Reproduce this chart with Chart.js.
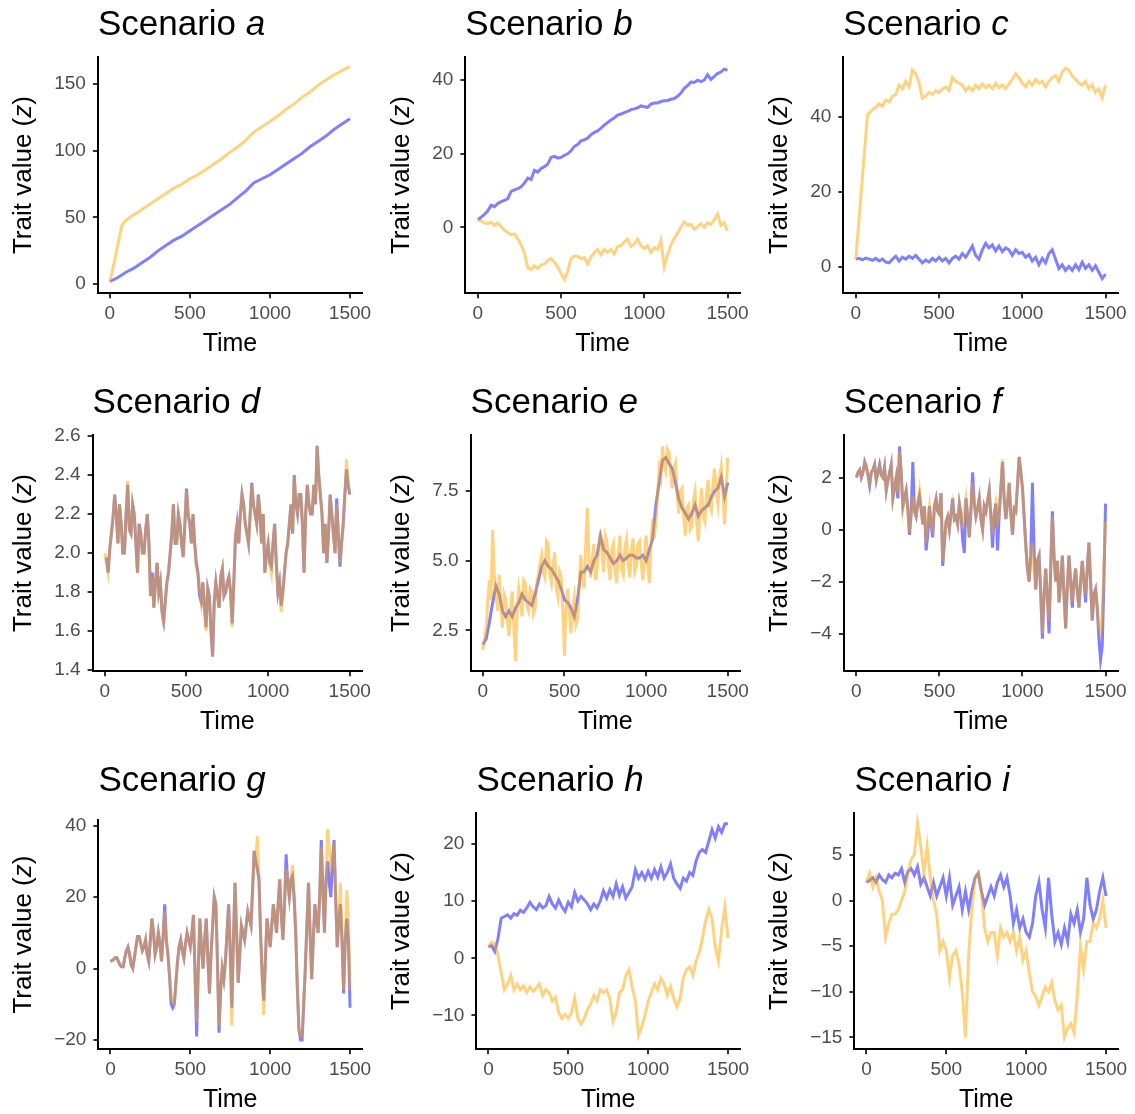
<!DOCTYPE html>
<html>
<head>
<meta charset="utf-8">
<script src="https://cdn.jsdelivr.net/npm/chart.js@4.4.1/dist/chart.umd.min.js"></script>
<style>
  html, body { margin: 0; padding: 0; background: #fff; overflow: hidden; }
  #grid { position: relative; width: 1135px; height: 1114px; }
  .cell { position: absolute; width: 378px; height: 378px; }
</style>
</head>
<body>
<div id="grid"></div>
<script>
// Time grids
const time10 = [0,10,20,30,40,50,60,70,80,90,
  100,110,120,130,140,150,160,170,180,190,
  200,210,220,230,240,250,260,270,280,290,
  300,310,320,330,340,350,360,370,380,390,
  400,410,420,430,440,450,460,470,480,490,
  500,510,520,530,540,550,560,570,580,590,
  600,610,620,630,640,650,660,670,680,690,
  700,710,720,730,740,750,760,770,780,790,
  800,810,820,830,840,850,860,870,880,890,
  900,910,920,930,940,950,960,970,980,990,
  1000,1010,1020,1030,1040,1050,1060,1070,1080,1090,
  1100,1110,1120,1130,1140,1150,1160,1170,1180,1190,
  1200,1210,1220,1230,1240,1250,1260,1270,1280,1290,
  1300,1310,1320,1330,1340,1350,1360,1370,1380,1390,
  1400,1410,1420,1430,1440,1450,1460,1470,1480,1490,
  1500];
const time20 = [0,20,40,60,80,100,120,140,160,180,200,220,240,260,280,300,320,340,360,380,
  400,420,440,460,480,500,520,540,560,580,600,620,640,660,680,700,720,740,760,780,
  800,820,840,860,880,900,920,940,960,980,1000,1020,1040,1060,1080,1100,1120,1140,1160,1180,
  1200,1220,1240,1260,1280,1300,1320,1340,1360,1380,1400,1420,1440,1460,1480,1500];
const time50 = [0,50,100,150,200,250,300,350,400,450,500,550,600,650,700,750,800,850,900,950,
  1000,1050,1100,1150,1200,1250,1300,1350,1400,1450,1500];
const xTicks = [0, 500, 1000, 1500];

// Scenario a
const aBlue = [2,5,9,12,16,20,25,29,33,36,40,44,48,52,56,60,65,70,76,79,82,86,90,94,98,103,107,111,116,120,124];
const aOrangeTime = [0,25,50,75,100,150,200,250,300,350,400,450,500,550,600,650,700,750,800,850,900,950,
  1000,1050,1100,1150,1200,1250,1300,1350,1400,1450,1500];
const aOrange = [2,15,30,44,48,52,56,60,64,68,72,75,79,82,86,90,94,99,103,108,114,118,122,126,131,135,140,144,149,153,157,160,163];
const aTicks = [0, 50, 100, 150];

// Scenario b (time20)
const bBlue = [2.0,2.8,3.5,4.5,6.0,5.6,6.5,7.0,7.3,7.8,
  9.8,10.2,10.5,11.0,12.0,13.4,13.0,15.5,15.0,16.0,
  16.5,17.2,19.0,19.3,18.8,19.0,19.6,20.0,20.8,22.0,
  22.5,23.5,23.8,24.3,25.2,25.8,26.2,27.0,27.8,28.5,
  29.2,29.8,30.5,30.8,31.2,31.5,32.0,32.2,32.5,33.0,
  32.8,32.6,33.5,33.8,33.8,34.2,34.4,34.5,34.8,35.0,
  35.6,36.5,37.8,38.5,39.5,39.4,40.0,39.6,40.0,41.5,
  40.2,41.0,41.8,42.2,43.0,42.7];
const bOrange = [2.0,1.8,1.2,1.0,1.4,0.5,1.2,0.2,-0.8,-1.5,
  -2.0,-1.8,-3.2,-4.8,-7.0,-11.0,-11.5,-10.5,-11.2,-10.2,
  -10.0,-9.0,-8.5,-9.5,-10.8,-12.5,-14.2,-12.0,-8.5,-7.8,
  -8.0,-8.5,-8.2,-10.0,-8.0,-7.0,-6.0,-7.5,-6.0,-6.8,
  -6.0,-7.2,-5.2,-5.0,-4.0,-3.2,-5.2,-4.5,-3.2,-5.0,
  -5.8,-5.0,-6.8,-5.5,-6.0,-3.5,-10.8,-7.5,-4.8,-3.0,
  -1.5,0.0,1.5,0.5,0.8,-0.5,0.2,1.0,0.0,1.2,
  0.8,2.0,3.6,0.5,1.2,-1.0];
const bTicks = [0, 20, 40];

// Scenario c (blue time20, orange own time grid)
const cBlue = [2,2.2,1.8,2.3,2.0,1.7,2.2,1.5,2.0,1.2,
  1.0,2.0,2.8,1.5,2.5,2.0,2.8,2.2,3.0,2.0,
  1.0,1.8,1.2,2.2,1.5,2.5,1.5,2.2,1.0,2.2,
  2.8,2.0,3.5,2.5,4.0,5.5,3.0,2.0,4.5,6.2,
  5.0,5.8,4.2,5.5,4.0,5.0,4.5,3.0,4.5,3.5,
  3.8,2.5,3.2,1.5,2.5,0.5,2.2,1.0,3.5,4.5,
  2.0,-0.5,0.5,-1.0,0.0,-1.0,0.5,-0.8,1.2,-0.5,
  0.5,-1.0,0.2,-1.5,-3.2,-2.0];
const cOrangeTime = [0,70,80,100,120,140,160,180,
  200,220,240,260,280,300,320,340,360,380,
  400,420,440,460,480,500,520,540,560,580,
  600,620,640,660,680,700,720,740,760,780,
  800,820,840,860,880,900,920,940,960,980,
  1000,1020,1040,1060,1080,1100,1120,1140,1160,1180,
  1200,1220,1240,1260,1280,1300,1320,1340,1360,1380,
  1400,1420,1440,1460,1480,1500];
const cOrange = [2,40.6,41,42,42.5,43.5,42.8,44.5,
  44.0,45.5,46.0,48.5,47.5,49.5,48.0,52.5,51.5,49.0,
  45.0,45.5,46.5,46.0,47.0,46.5,47.5,48.0,47.0,50.5,
  49.5,49.0,48.5,47.0,48.0,47.0,48.5,47.5,48.8,47.8,
  48.5,47.5,49.0,47.8,48.5,47.5,48.8,50.0,51.5,50.5,
  49.0,48.0,49.5,48.5,50.0,49.0,49.5,48.0,49.5,50.5,
  51.0,49.5,52.0,53.0,52.5,51.0,50.0,49.0,48.5,49.5,
  47.5,48.5,46.5,47.5,45.0,48.5];
const cTicks = [0, 20, 40];

// Scenario d (time10)
const dBlue = [1.97,1.97,1.9,2.02,2.1,2.18,2.3,2.2,2.05,2.25,
  2.15,2.0,2.0,2.2,2.35,2.12,2.1,2.25,2.2,2.05,
  1.9,2.15,2.1,2.0,2.0,2.12,2.2,2.05,1.78,1.9,
  1.72,1.85,1.95,1.8,1.85,1.7,1.65,1.75,1.85,1.9,
  2.0,2.1,2.25,2.05,2.05,2.2,2.15,2.05,1.98,2.15,
  2.33,2.2,2.15,2.05,2.2,2.05,1.95,1.9,1.78,1.75,
  1.85,1.72,1.62,1.82,1.78,1.6,1.47,1.75,1.85,1.78,
  1.72,1.88,1.92,1.78,1.8,1.85,1.88,1.8,1.64,1.85,
  2.08,2.15,2.05,2.2,2.3,2.25,2.15,2.1,2.05,2.2,
  2.36,2.25,2.2,2.15,2.3,2.2,2.05,2.2,1.9,2.0,
  2.05,1.95,1.93,2.05,2.15,1.95,1.8,1.85,1.73,1.8,
  1.9,2.0,2.05,2.15,2.25,2.1,2.4,2.25,2.2,2.3,
  2.3,2.15,1.9,2.2,2.35,2.25,2.2,2.2,2.35,2.25,
  2.55,2.4,2.3,2.2,2.0,2.15,1.95,2.1,2.3,2.2,
  2.1,2.0,2.28,2.1,1.93,2.05,2.15,2.3,2.43,2.35,
  2.3];
const dOrange = [2.0,1.95,1.9,2.02,2.1,2.18,2.3,2.2,2.05,2.25,
  2.15,2.0,2.0,2.2,2.37,2.12,2.1,2.25,2.2,2.05,
  1.9,2.15,2.1,2.0,2.0,2.12,2.2,2.05,1.78,1.88,
  1.72,1.85,1.95,1.8,1.85,1.7,1.63,1.75,1.85,1.9,
  2.0,2.1,2.25,2.05,2.05,2.2,2.15,2.05,1.98,2.15,
  2.32,2.2,2.15,2.05,2.2,2.05,1.92,1.9,1.82,1.75,
  1.85,1.72,1.6,1.82,1.78,1.62,1.47,1.75,1.85,1.78,
  1.72,1.88,1.92,1.78,1.8,1.85,1.88,1.8,1.62,1.85,
  2.1,2.15,2.05,2.2,2.3,2.25,2.15,2.1,2.05,2.2,
  2.35,2.25,2.2,2.15,2.3,2.2,2.05,2.2,1.9,2.0,
  2.05,1.95,1.9,2.05,2.15,1.95,1.8,1.85,1.7,1.8,
  1.9,2.0,2.05,2.15,2.25,2.1,2.4,2.25,2.2,2.3,
  2.3,2.15,1.9,2.2,2.35,2.25,2.2,2.2,2.35,2.25,
  2.55,2.4,2.3,2.2,2.0,2.15,1.95,2.1,2.3,2.2,
  2.1,2.0,2.25,2.1,1.95,2.05,2.15,2.3,2.48,2.35,
  2.3];
const dTicks = [1.4, 1.6, 1.8, 2.0, 2.2, 2.4, 2.6];

// Scenario e (blue time20, orange time10)
const eBlue = [2.0,2.2,2.8,3.5,4.1,3.8,3.2,3.0,3.2,3.0,
  3.3,3.5,3.8,3.6,3.5,3.4,3.8,4.3,4.8,5.0,
  4.8,4.7,4.5,4.3,4.0,3.6,3.5,3.3,3.0,3.6,
  4.6,4.6,4.8,4.6,5.0,5.2,5.9,5.4,5.3,5.1,
  4.9,5.0,5.2,5.0,5.1,5.2,5.2,5.1,5.1,5.2,
  5.0,5.4,5.8,7.0,7.8,8.6,8.7,8.5,8.3,7.8,
  7.2,6.9,6.7,6.5,6.7,7.0,6.6,6.8,6.9,7.0,
  7.3,7.5,7.6,8.0,7.3,7.8];
const eOrange = [1.8,2.2,2.6,3.5,4.3,3.6,6.1,4.5,3.8,3.2,
  4.5,3.5,2.6,3.8,3.6,2.9,2.3,3.3,3.9,2.6,
  1.4,3.2,4.0,3.6,3.0,4.3,4.2,3.4,3.2,4.0,
  3.9,3.1,3.3,4.2,4.5,4.9,5.2,4.6,4.4,5.7,
  5.6,4.5,4.2,4.9,5.3,4.0,3.7,4.6,4.4,3.2,
  1.6,3.4,4.0,3.1,2.4,3.3,3.7,2.7,2.9,4.1,
  5.2,4.4,4.0,5.6,6.9,5.0,4.4,5.1,5.6,4.3,
  4.7,5.5,6.0,5.2,4.6,5.9,5.7,4.8,4.3,5.4,
  5.6,4.6,4.2,5.3,5.9,4.7,4.5,5.5,5.8,4.9,
  4.4,5.4,5.8,4.6,4.8,5.6,5.7,4.9,4.3,5.2,
  5.9,4.8,4.2,5.6,6.5,5.8,6.4,7.4,8.3,8.0,
  9.1,8.4,8.2,9.0,8.9,8.1,7.6,8.3,8.5,7.4,
  6.7,7.5,7.6,6.6,5.9,6.9,7.0,6.1,6.2,7.2,
  7.5,6.3,5.7,6.9,7.6,6.6,6.4,7.4,7.9,7.0,
  6.8,7.8,8.3,7.4,7.0,8.0,8.4,7.6,6.3,7.5,
  8.7];
const eTicks = [2.5, 5.0, 7.5];

// Scenario f (time10)
const fBlue = [2.0,2.2,2.3,2.0,2.2,2.6,2.4,2.1,1.7,2.2,
  2.3,2.5,1.9,2.2,2.5,2.1,2.0,2.4,1.5,1.9,
  2.2,2.5,1.2,1.6,2.0,1.2,3.2,2.2,0.9,1.2,
  1.5,0.8,-0.2,0.6,2.6,0.7,0.5,1.0,1.3,0.8,
  0.2,0.9,-0.8,-0.2,0.9,0.2,-0.3,0.9,1.2,0.7,
  0.6,1.4,-1.4,-0.5,0.3,0.5,0.0,0.6,1.2,0.4,
  0.5,0.2,1.0,0.6,-0.4,-0.9,1.2,0.5,-0.3,0.8,
  2.2,1.0,0.5,0.8,1.2,0.4,0.0,0.9,0.7,1.1,
  1.5,0.5,-0.7,0.6,1.0,-0.8,0.6,1.6,2.6,1.2,
  0.4,1.0,1.8,0.6,-0.2,0.8,0.7,1.7,2.8,2.2,
  1.6,0.5,-0.6,-1.5,-2.0,-1.0,1.8,-0.8,-2.3,-1.2,
  -1.0,-2.5,-4.2,-2.5,-1.5,-2.6,-4.0,-1.5,0.7,-1.0,
  -2.0,-1.2,-2.8,-2.0,-1.0,-2.5,-3.8,-2.2,-1.0,-2.0,
  -3.0,-2.0,-1.5,-2.4,-3.0,-2.0,-1.2,-2.0,-2.8,-1.5,
  -0.5,-2.0,-3.5,-2.5,-2.3,-3.0,-4.2,-5.0,-4.5,-2.0,
  1.0];
const fOrange = [2.0,2.2,2.3,2.0,2.2,2.6,2.5,2.1,1.8,2.2,
  2.3,2.5,1.9,2.2,2.4,2.1,2.0,2.4,1.5,1.9,
  2.1,2.5,1.2,1.6,2.0,1.4,3.0,2.2,0.8,1.2,
  1.5,0.8,-0.1,0.6,1.3,0.7,0.5,1.0,1.5,0.8,
  0.2,0.9,-0.5,0.4,0.9,0.2,0.0,0.9,1.2,0.7,
  0.6,1.4,-1.2,-0.5,0.3,0.5,0.0,0.6,1.0,0.4,
  0.5,0.2,1.0,0.6,0.0,0.7,1.2,0.5,-0.3,0.8,
  1.8,1.0,0.5,0.8,1.2,0.4,0.0,0.9,0.7,1.1,
  1.5,0.5,-0.2,0.6,1.0,0.3,0.6,1.6,2.7,1.2,
  0.4,1.0,1.8,0.6,-0.2,0.8,0.7,1.7,2.8,2.2,
  1.6,0.5,-0.6,-1.5,-2.0,-1.0,-0.5,-1.6,-2.3,-1.2,
  -1.0,-2.5,-4.0,-2.5,-1.5,-2.6,-3.5,-1.5,0.5,-1.0,
  -2.0,-1.2,-2.8,-2.0,-1.0,-2.5,-3.8,-2.2,-1.0,-2.0,
  -2.8,-2.0,-1.5,-2.4,-3.0,-2.0,-1.2,-2.0,-2.5,-1.5,
  -0.5,-2.0,-3.5,-2.5,-2.3,-3.0,-3.8,-4.0,-3.3,-1.5,
  0.3];
const fTicks = [-4, -2, 0, 2];

// Scenario g (time10)
const gBlue = [2,2.2,2.5,3,3,2,1,0.5,0.5,3,
  5,6,4,1,0,3,6,9,9,7,
  5,6,8,4,2,8,14,10,4,6,
  10,7,2,9,18,8,4,-2,-10,-11,
  -10,-4,2,6,8,5,3,7,10,8,
  6,10,15,-2,-19,0,14,6,0,8,
  14,3,-7,4,12,20,18,2,-18,-6,
  0,-3,2,10,18,5,-11,8,24,10,
  -4,4,12,10,8,12,16,14,12,22,
  33,30,28,25,10,-2,-9,2,14,10,
  6,12,18,14,10,18,25,15,8,18,
  32,24,20,25,26,20,10,-5,-17,-20,
  -20,-10,0,12,24,10,-3,8,18,14,
  10,20,36,22,10,25,30,24,20,30,
  36,20,6,14,18,8,-7,8,14,8,
  -11];
const gOrange = [2,2.2,2.5,3,3,2,1,0.5,0.5,3,
  5,6,4,1,0,3,6,9,9,7,
  5,6,8,4,2,8,14,10,4,6,
  10,7,2,9,16,8,4,-2,-8,-9,
  -10,-4,2,6,8,5,3,7,10,8,
  6,10,15,-2,-15,0,14,6,0,8,
  14,3,-7,4,12,20,18,2,-16,-6,
  0,-3,2,10,18,5,-16,8,24,10,
  -4,4,12,10,8,12,16,14,12,22,
  33,30,37,25,10,-2,-13,2,14,10,
  6,12,18,14,10,18,25,15,8,18,
  28,24,20,25,29,20,10,-5,-17,-19,
  -19,-10,0,12,24,10,-3,8,18,14,
  10,20,34,22,10,25,39,34,28,30,
  35,20,6,14,24,8,-6,8,22,14,
  -6];
const gTicks = [-20, 0, 20, 40];

// Scenario h (time20)
const hBlue = [2,2.2,1.2,3.5,7.0,7.3,7.6,7.0,7.8,7.5,
  8.4,8.0,8.8,9.8,9.0,8.5,9.5,8.8,9.2,10.8,
  9.5,8.8,10.2,9.0,8.2,9.8,9.0,11.5,10.0,10.8,
  10.2,9.5,8.5,9.5,8.8,10.0,11.8,10.5,12.0,10.8,
  13.0,11.0,12.5,10.5,11.5,12.5,15.5,14.0,15.0,13.8,
  15.2,14.0,15.5,14.2,16.0,14.0,15.0,16.5,14.0,13.0,
  12.2,14.0,13.5,15.0,14.5,17.0,18.5,19.0,18.5,20.5,
  22.5,21.0,23.0,22.0,23.5,23.5];
const hOrange = [2,2.8,2.5,0.5,-2.5,-5.5,-4.5,-3.0,-5.5,-4.5,
  -5.5,-4.8,-6.0,-5.0,-5.8,-5.2,-4.5,-6.5,-5.5,-6.0,
  -7.5,-6.8,-9.5,-10.5,-9.8,-10.5,-9.5,-7.0,-10.5,-11.5,
  -10.5,-9.0,-8.0,-6.5,-7.5,-5.5,-6.0,-5.5,-7.0,-11.0,
  -9.5,-6.0,-5.5,-3.0,-2.0,-5.0,-7.5,-13.5,-12.0,-10.0,
  -7.5,-6.0,-4.5,-5.5,-3.5,-4.5,-6.5,-5.0,-7.0,-8.5,
  -7.0,-3.5,-2.0,-1.5,-3.0,-0.5,1.0,3.5,6.5,8.5,
  7.0,2.0,-0.5,5.0,9.0,3.5];
const hTicks = [-10, 0, 10, 20];

// Scenario i (time20)
const iBlue = [2,2.2,2.5,2.0,2.8,2.3,2.0,2.8,2.5,3.0,
  2.8,3.5,2.0,3.2,3.5,2.8,3.7,1.8,2.5,1.5,
  0.5,2.0,0.5,1.5,2.5,0.5,2.5,-0.5,0.5,1.5,
  -1.0,1.0,-1.0,1.0,2.5,3.0,1.0,-0.5,0.5,1.5,
  0.5,2.0,2.8,1.5,2.5,0.5,-2.5,-1.0,-3.0,-2.0,
  -3.5,-4.0,-2.5,0.5,2.0,-1.0,-3.0,2.5,-1.5,-4.5,
  -3.5,-4.8,-3.0,-4.5,-1.5,-2.5,-1.0,-3.5,-2.0,2.5,
  -0.5,-2.0,-1.0,1.0,2.5,0.5];
const iOrange = [2,3,1.5,2.5,1.0,0.0,-4.0,-2.5,-1.5,-1.5,
  -1.0,0.0,1.0,3.0,4.5,5.0,8.5,6.0,3.0,6.0,
  2.5,0.0,-1.5,-5.5,-4.5,-5.5,-8.5,-6.0,-5.5,-7.0,
  -10.0,-15.0,-6.0,-1.0,2.5,3.0,1.0,-3.0,-4.5,-3.5,
  -3.5,-6.0,-3.0,-4.0,-3.5,-4.5,-3.5,-5.5,-4.0,-6.5,
  -5.5,-8.0,-10.0,-10.5,-11.5,-10.5,-9.5,-10.0,-9.0,-11.0,
  -12.0,-11.5,-15.0,-14.0,-13.5,-14.5,-10.5,-5.0,-7.5,-4.5,
  -4.5,-2.5,-3.0,-2.0,0.0,-3.0];
const iTicks = [-15, -10, -5, 0, 5];

const FAMILY = '"Liberation Sans", Arial, Helvetica, sans-serif';
const BLUE = 'rgba(0, 0, 255, 0.5)';
const ORANGE = 'rgba(255, 165, 0, 0.5)';
const Y_TITLE_SIZE = 26;
const Y_TITLE_PAD = 8;

Chart.defaults.font.family = FAMILY;

function pts(times, values) {
  return values.map((v, k) => ({ x: times[k], y: v }));
}

// title with italic letter, y label with italic z
const panelText = {
  id: 'panelText',
  afterDraw(chart, args, opts) {
    const ctx = chart.ctx;
    const area = chart.chartArea;
    ctx.save();
    ctx.fillStyle = '#000';
    ctx.textAlign = 'left';
    ctx.textBaseline = 'alphabetic';
    ctx.font = '35px ' + FAMILY;
    ctx.fillText('Scenario ', area.left, 35);
    const w = ctx.measureText('Scenario ').width;
    ctx.font = 'italic 35px ' + FAMILY;
    ctx.fillText(opts.letter, area.left + w, 35);

    const ys = chart.scales.y;
    const cx = ys.left + Y_TITLE_PAD + Y_TITLE_SIZE * 1.2 / 2;
    const cy = (area.top + area.bottom) / 2;
    ctx.translate(cx, cy);
    ctx.rotate(-Math.PI / 2);
    ctx.textBaseline = 'middle';
    const parts = [['Trait value (', ''], ['z', 'italic '], [')', '']];
    let total = 0;
    parts.forEach(p => { ctx.font = p[1] + Y_TITLE_SIZE + 'px ' + FAMILY; total += ctx.measureText(p[0]).width; });
    let x = -total / 2;
    parts.forEach(p => {
      ctx.font = p[1] + Y_TITLE_SIZE + 'px ' + FAMILY;
      ctx.fillText(p[0], x, 0);
      x += ctx.measureText(p[0]).width;
    });
    ctx.restore();
  }
};

const panels = [
  { letter: 'a', blue: pts(time50, aBlue), orange: pts(aOrangeTime, aOrange), yMin: -6.75, yMax: 170.25, ticks: aTicks, dec: 0 },
  { letter: 'b', blue: pts(time20, bBlue), orange: pts(time20, bOrange), yMin: -17.9, yMax: 46.3, ticks: bTicks, dec: 0 },
  { letter: 'c', blue: pts(time20, cBlue), orange: pts(cOrangeTime, cOrange), yMin: -7.1, yMax: 56, ticks: cTicks, dec: 0 },
  { letter: 'd', blue: pts(time10, dBlue), orange: pts(time10, dOrange), yMin: 1.395, yMax: 2.605, ticks: dTicks, dec: 1 },
  { letter: 'e', blue: pts(time20, eBlue), orange: pts(time10, eOrange), yMin: 1.04, yMax: 9.51, ticks: eTicks, dec: 1 },
  { letter: 'f', blue: pts(time10, fBlue), orange: pts(time10, fOrange), yMin: -5.45, yMax: 3.64, ticks: fTicks, dec: 0 },
  { letter: 'g', blue: pts(time10, gBlue), orange: pts(time10, gOrange), yMin: -22.6, yMax: 41.6, ticks: gTicks, dec: 0, top: 64 },
  { letter: 'h', blue: pts(time20, hBlue), orange: pts(time20, hOrange), yMin: -15.9, yMax: 25.4, ticks: hTicks, dec: 0 },
  { letter: 'i', blue: pts(time20, iBlue), orange: pts(time20, iOrange), yMin: -16.3, yMax: 9.6, ticks: iTicks, dec: 0 }
];

function fmt(v, dec) {
  return v.toFixed(dec).replace('-', '\u2212');
}

const grid = document.getElementById('grid');
panels.forEach((p, k) => {
  const cell = document.createElement('div');
  cell.className = 'cell';
  cell.style.left = (k % 3) * 378 + 'px';
  cell.style.top = Math.floor(k / 3) * 378 + 'px';
  const canvas = document.createElement('canvas');
  canvas.width = 378;
  canvas.height = 378;
  cell.appendChild(canvas);
  grid.appendChild(cell);

  const axisGrid = { display: true, drawOnChartArea: false, drawTicks: true, tickLength: 5, color: '#333333', lineWidth: 2 };
  const axisBorder = { display: true, color: '#000000', width: 2 };

  // Chart.js paints dataset 0 last, so orange goes first to sit on top of blue
  new Chart(canvas.getContext('2d'), {
    type: 'line',
    data: {
      datasets: [
        { data: p.orange, borderColor: ORANGE, borderWidth: 3, pointRadius: 0, fill: false, tension: 0 },
        { data: p.blue, borderColor: BLUE, borderWidth: 3, pointRadius: 0, fill: false, tension: 0 }
      ]
    },
    options: {
      responsive: false,
      animation: false,
      events: [],
      layout: { padding: { left: 0, top: p.top || 57, right: 16, bottom: 15 } },
      plugins: {
        legend: { display: false },
        tooltip: { enabled: false },
        panelText: { letter: p.letter }
      },
      scales: {
        x: {
          type: 'linear', min: -75, max: 1575,
          afterBuildTicks: axis => { axis.ticks = xTicks.map(v => ({ value: v })); },
          ticks: { color: '#4d4d4d', font: { size: 19 }, padding: 4, maxRotation: 0, autoSkip: false, callback: v => fmt(v, 0) },
          grid: axisGrid,
          border: axisBorder,
          title: { display: true, text: 'Time', color: '#000', font: { size: 25 }, padding: { top: 0, bottom: 4 } }
        },
        y: {
          type: 'linear', min: p.yMin, max: p.yMax,
          afterBuildTicks: axis => { axis.ticks = p.ticks.map(v => ({ value: v })); },
          ticks: { color: '#4d4d4d', font: { size: 19 }, padding: 7, autoSkip: false, callback: v => fmt(v, p.dec) },
          grid: axisGrid,
          border: axisBorder,
          title: { display: true, text: 'Trait value (z)', color: 'rgba(0,0,0,0)', font: { size: Y_TITLE_SIZE }, padding: { top: Y_TITLE_PAD, bottom: 8 } }
        }
      }
    },
    plugins: [panelText]
  });
});
</script>
</body>
</html>
